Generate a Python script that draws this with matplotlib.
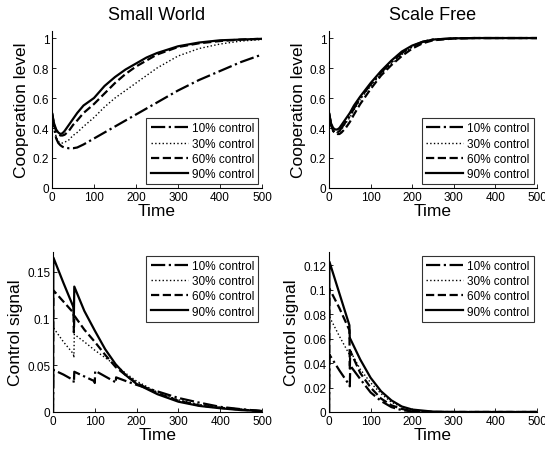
import numpy as np
from matplotlib import pyplot as plt
from matplotlib.ticker import FuncFormatter

plt.rcParams['font.family'] = ['Liberation Sans', 'DejaVu Sans']

labels = ["10% control", "30% control", "60% control", "90% control"]
styles = ['-.', ':', '--', '-']

# cooperation level (shared time grid)
t_coop = [0, 5, 10, 15, 20, 25, 30, 40, 50, 60, 75, 100, 125, 150, 175, 200, 225, 250, 300, 350, 400, 450, 500]

sw_coop_10 = [0.50, 0.40, 0.33, 0.30, 0.285, 0.275, 0.27, 0.265, 0.265, 0.27, 0.29, 0.33, 0.37, 0.41, 0.45,
              0.49, 0.53, 0.57, 0.65, 0.72, 0.78, 0.84, 0.89]
sw_coop_30 = [0.50, 0.40, 0.34, 0.31, 0.30, 0.30, 0.305, 0.32, 0.35, 0.37, 0.41, 0.47, 0.54, 0.60, 0.65,
              0.70, 0.75, 0.80, 0.88, 0.93, 0.96, 0.98, 0.99]
sw_coop_60 = [0.50, 0.42, 0.38, 0.36, 0.35, 0.35, 0.355, 0.38, 0.42, 0.45, 0.50, 0.56, 0.63, 0.70, 0.76,
              0.81, 0.85, 0.89, 0.94, 0.965, 0.98, 0.99, 0.995]
sw_coop_90 = [0.50, 0.43, 0.39, 0.37, 0.36, 0.365, 0.38, 0.42, 0.46, 0.50, 0.55, 0.60, 0.68, 0.74, 0.79,
              0.83, 0.87, 0.90, 0.945, 0.97, 0.985, 0.99, 0.995]

sf_coop_10 = [0.50, 0.42, 0.38, 0.37, 0.37, 0.38, 0.40, 0.44, 0.48, 0.53, 0.60, 0.69, 0.77, 0.84, 0.90,
              0.945, 0.975, 0.99, 0.998, 1.0, 1.0, 1.0, 1.0]
sf_coop_30 = [0.50, 0.42, 0.385, 0.37, 0.37, 0.375, 0.39, 0.43, 0.47, 0.52, 0.59, 0.68, 0.76, 0.83, 0.89,
              0.94, 0.97, 0.99, 0.998, 1.0, 1.0, 1.0, 1.0]
sf_coop_60 = [0.50, 0.42, 0.38, 0.365, 0.36, 0.36, 0.37, 0.40, 0.44, 0.49, 0.56, 0.66, 0.75, 0.82, 0.88,
              0.93, 0.965, 0.985, 0.997, 1.0, 1.0, 1.0, 1.0]
sf_coop_90 = [0.50, 0.43, 0.40, 0.39, 0.39, 0.40, 0.42, 0.46, 0.50, 0.55, 0.61, 0.70, 0.78, 0.85, 0.91,
              0.95, 0.975, 0.99, 0.998, 1.0, 1.0, 1.0, 1.0]

# control signal, small world
t_sw_10 = [0, 1, 25, 49, 50, 51, 75, 99, 100, 101, 125, 149, 150, 151, 175, 200, 250, 300, 350, 400, 450, 500]
sw_ctrl_10 = [0, 0.045, 0.040, 0.034, 0.031, 0.043, 0.038, 0.033, 0.031, 0.044, 0.038, 0.032, 0.031, 0.037,
              0.033, 0.029, 0.022, 0.015, 0.010, 0.0055, 0.003, 0.001]
t_sw_30 = [0, 1, 25, 49, 50, 51, 75, 100, 125, 150, 175, 200, 250, 300, 350, 400, 450, 500]
sw_ctrl_30 = [0, 0.090, 0.075, 0.062, 0.058, 0.083, 0.075, 0.066, 0.058, 0.050, 0.041, 0.033, 0.021, 0.013,
              0.008, 0.005, 0.003, 0.001]
t_sw_60 = [0, 1, 25, 49, 50, 51, 75, 100, 125, 150, 175, 200, 250, 300, 350, 400, 450, 500]
sw_ctrl_60 = [0, 0.130, 0.118, 0.106, 0.085, 0.103, 0.088, 0.075, 0.061, 0.048, 0.039, 0.031, 0.020, 0.012,
              0.007, 0.0045, 0.0025, 0.001]
t_sw_90 = [0, 1, 25, 49, 50, 51, 75, 100, 125, 150, 175, 200, 250, 300, 350, 400, 450, 500]
sw_ctrl_90 = [0, 0.165, 0.138, 0.112, 0.103, 0.134, 0.108, 0.087, 0.067, 0.051, 0.039, 0.030, 0.019, 0.011,
              0.0065, 0.004, 0.002, 0.001]

# control signal, scale free
t_sf_10 = [0, 1, 25, 49, 50, 51, 75, 100, 125, 150, 175, 200, 250, 500]
sf_ctrl_10 = [0, 0.047, 0.034, 0.022, 0.021, 0.038, 0.027, 0.016, 0.009, 0.004, 0.0015, 0.0005, 0, 0]
t_sf_30 = [0, 1, 25, 49, 50, 51, 75, 100, 125, 150, 175, 200, 250, 500]
sf_ctrl_30 = [0, 0.078, 0.062, 0.047, 0.044, 0.050, 0.035, 0.024, 0.015, 0.008, 0.004, 0.0015, 0, 0]
t_sf_60 = [0, 1, 25, 49, 50, 51, 75, 100, 125, 150, 175, 200, 250, 500]
sf_ctrl_60 = [0, 0.101, 0.085, 0.067, 0.035, 0.050, 0.032, 0.020, 0.011, 0.0055, 0.0025, 0.001, 0, 0]
t_sf_90 = [0, 1, 25, 49, 50, 51, 75, 100, 125, 150, 175, 200, 250, 300, 500]
sf_ctrl_90 = [0, 0.123, 0.097, 0.071, 0.060, 0.060, 0.043, 0.028, 0.017, 0.0095, 0.0045, 0.002, 0.0003, 0, 0]


def style_axes(ax, ylim, yticks, ylabel):
    ax.set_xlim(0, 500)
    ax.set_ylim(*ylim)
    ax.set_xticks([0, 100, 200, 300, 400, 500])
    ax.set_yticks(yticks)
    ax.yaxis.set_major_formatter(FuncFormatter(lambda v, p: '%g' % round(v, 4)))
    ax.spines['top'].set_visible(False)
    ax.spines['right'].set_visible(False)
    ax.spines['left'].set_linewidth(0.8)
    ax.spines['bottom'].set_linewidth(0.8)
    ax.tick_params(direction='in', length=3, width=0.6, labelsize=8.5, pad=2)
    ax.set_xlabel("Time", fontsize=12.5, labelpad=0)
    ax.set_ylabel(ylabel, fontsize=12.5, labelpad=3)


def plot_series(ax, series, loc):
    for (t, v), ls, lab in zip(series, styles, labels):
        lw = 1.0 if ls == ':' else 1.6
        ax.plot(t, v, ls, color='k', lw=lw, label=lab)
    leg = ax.legend(loc=loc, fontsize=8.5, frameon=True, fancybox=False, handlelength=3.2,
                    labelspacing=0.28, borderpad=0.35, handletextpad=0.3, borderaxespad=0.3)
    leg.get_frame().set_edgecolor('k')
    leg.get_frame().set_linewidth(0.8)


fig = plt.figure(figsize=(5.45, 4.52), dpi=100)

ax1 = fig.add_axes([0.0954, 0.5819, 0.3853, 0.3473])
plot_series(ax1, [(t_coop, sw_coop_10), (t_coop, sw_coop_30), (t_coop, sw_coop_60), (t_coop, sw_coop_90)],
            "lower right")
style_axes(ax1, (0, 1.047), [0, 0.2, 0.4, 0.6, 0.8, 1], "Cooperation level")
ax1.set_title("Small World", fontsize=13, pad=9)

ax2 = fig.add_axes([0.6037, 0.5819, 0.3817, 0.3473])
plot_series(ax2, [(t_coop, sf_coop_10), (t_coop, sf_coop_30), (t_coop, sf_coop_60), (t_coop, sf_coop_90)],
            "lower right")
style_axes(ax2, (0, 1.047), [0, 0.2, 0.4, 0.6, 0.8, 1], "Cooperation level")
ax2.set_title("Scale Free", fontsize=13, pad=9)

ax3 = fig.add_axes([0.0972, 0.0863, 0.3835, 0.354])
plot_series(ax3, [(t_sw_10, sw_ctrl_10), (t_sw_30, sw_ctrl_30), (t_sw_60, sw_ctrl_60), (t_sw_90, sw_ctrl_90)],
            "upper right")
style_axes(ax3, (0, 0.171), [0, 0.05, 0.1, 0.15], "Control signal")

ax4 = fig.add_axes([0.6037, 0.0863, 0.3817, 0.354])
plot_series(ax4, [(t_sf_10, sf_ctrl_10), (t_sf_30, sf_ctrl_30), (t_sf_60, sf_ctrl_60), (t_sf_90, sf_ctrl_90)],
            "upper right")
style_axes(ax4, (0, 0.131), [0, 0.02, 0.04, 0.06, 0.08, 0.1, 0.12], "Control signal")

plt.savefig("out.png", dpi=100)
